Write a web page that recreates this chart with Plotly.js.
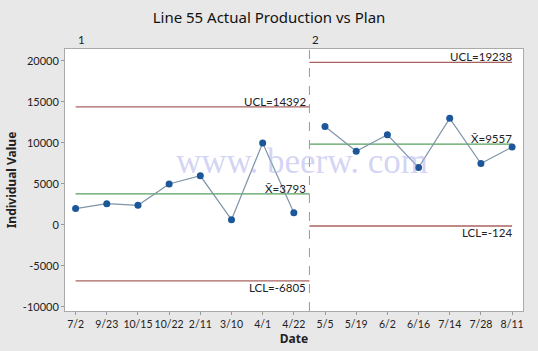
<!DOCTYPE html>
<html>
<head>
<meta charset="utf-8">
<script src="https://cdn.plot.ly/plotly-3.0.1.min.js"></script>
<style>html,body{margin:0;padding:0;background:#e8e8e8;}#chart{width:538px;height:351px;}</style>
</head>
<body>
<div id="chart"></div>
<script>
const dates = ["7/2","9/23","10/15","10/22","2/11","3/10","4/1","4/22","5/5","5/19","6/2","6/16","7/14","7/28","8/11"];
const values = [2000,2600,2400,5000,6000,650,10000,1500,12000,9000,11000,7000,13000,7500,9500];
const stageStart = [0, 7.5];
const stageEnd = [7.5, 14];
const stageNames = ["1","2"];
const uclValues = [14392, 19840];
const clValues = [3793, 9860];
const lclValues = [-6805, -124];
const uclLabels = ["UCL=14392","UCL=19238"];
const clLabels = ["X\u0304=3793","X\u0304=9557"];
const lclLabels = ["LCL=-6805","LCL=-124"];
const yTicks = [-10000,-5000,0,5000,10000,15000,20000];
const yTickText = ["-10000","-5000","0","5000","10000","15000","20000"];

const xIdx = dates.map((d,i)=>i);
const traces = [];
const annotations = [];
const redC = '#a8625e', greenC = '#56a060';
const txtFont = 'Lato, Noto Sans, sans-serif';
for (let s=0; s<2; s++){
  traces.push({x:[stageStart[s],stageEnd[s]], y:[uclValues[s],uclValues[s]], mode:'lines', line:{color:redC,width:1.3}, hoverinfo:'skip'});
  traces.push({x:[stageStart[s],stageEnd[s]], y:[lclValues[s],lclValues[s]], mode:'lines', line:{color:redC,width:1.3}, hoverinfo:'skip'});
  traces.push({x:[stageStart[s],stageEnd[s]], y:[clValues[s],clValues[s]], mode:'lines', line:{color:greenC,width:1.3}, hoverinfo:'skip'});
  const xr = s===0 ? stageEnd[s]-0.05 : stageEnd[s]+0.05;
  const f = {family:txtFont, size:11.5, color:'#222'};
  annotations.push({x:xr, y:uclValues[s], text:uclLabels[s], xanchor:'right', yanchor:'bottom', showarrow:false, font:f, yshift:-3});
  annotations.push({x:xr, y:clValues[s], text:clLabels[s], xanchor:'right', yanchor:'bottom', showarrow:false, font:f, yshift:-3});
  annotations.push({x:xr, y:lclValues[s], text:lclLabels[s], xanchor:'right', yanchor:'top', showarrow:false, font:f, yshift:2});
  annotations.push({x:stageStart[s], xshift:6, y:1, yref:'paper', text:stageNames[s], xanchor:'center', yanchor:'bottom', showarrow:false, font:{family:txtFont, size:11.5, color:'#222'}, yshift:1});
}
annotations[3].x = 0.2;
annotations[3].xshift = 0;
annotations.push({x:0.517, y:0.57, xref:'paper', yref:'paper', text:'www. beerw. com', showarrow:false, font:{family:'Liberation Serif, DejaVu Serif, serif', size:35, color:'rgba(170,170,235,0.5)'}, xanchor:'center', yanchor:'middle'});

for (let s=0; s<2; s++){
  const xs=[], ys=[];
  values.forEach((v,i)=>{ if (i>=stageStart[s] && i<=stageEnd[s]) {xs.push(i); ys.push(v);} });
  traces.push({x:xs, y:ys, mode:'lines+markers', line:{color:'#7d95a8',width:1.2}, marker:{color:'#1b5799',size:7}, hoverinfo:'skip'});
}

const layout = {
  width:538, height:351,
  paper_bgcolor:'#e8e8e8', plot_bgcolor:'#ffffff',
  margin:{l:65, r:15, t:49, b:40},
  showlegend:false,
  title:{text:'Line 55 Actual Production vs Plan', x:0.5, xanchor:'center', y:0.95, yanchor:'middle', font:{family:'Noto Sans, Open Sans, sans-serif', size:15, color:'#111'}},
  xaxis:{range:[-0.34,14.35], tickvals:xIdx, ticktext:dates, tickangle:0, ticks:'outside', ticklen:3, tickcolor:'#999', showgrid:false, zeroline:false, showline:true, linecolor:'#aaa', mirror:true,
    tickfont:{family:txtFont, size:10.5, color:'#222'},
    title:{text:'Date', font:{family:'Noto Sans, sans-serif', size:12, color:'#222', weight:'bold'}, standoff:4}},
  yaxis:{range:[-10490,21460], tickvals:yTicks, ticktext:yTickText, ticks:'outside', ticklen:3, tickcolor:'#999', showgrid:false, zeroline:false, showline:true, linecolor:'#aaa', mirror:true,
    tickfont:{family:txtFont, size:11, color:'#222'},
    title:{text:'Individual Value', font:{family:'Noto Sans, sans-serif', size:12, color:'#222', weight:'bold'}, standoff:3}},
  shapes:[{type:'line', xref:'x', yref:'paper', x0:stageEnd[0], x1:stageEnd[0], y0:0, y1:1.02, line:{color:'#999', width:1, dash:'dash'}}],
  annotations:annotations
};
Plotly.newPlot('chart', traces, layout, {staticPlot:true, displayModeBar:false});
</script>
</body>
</html>
